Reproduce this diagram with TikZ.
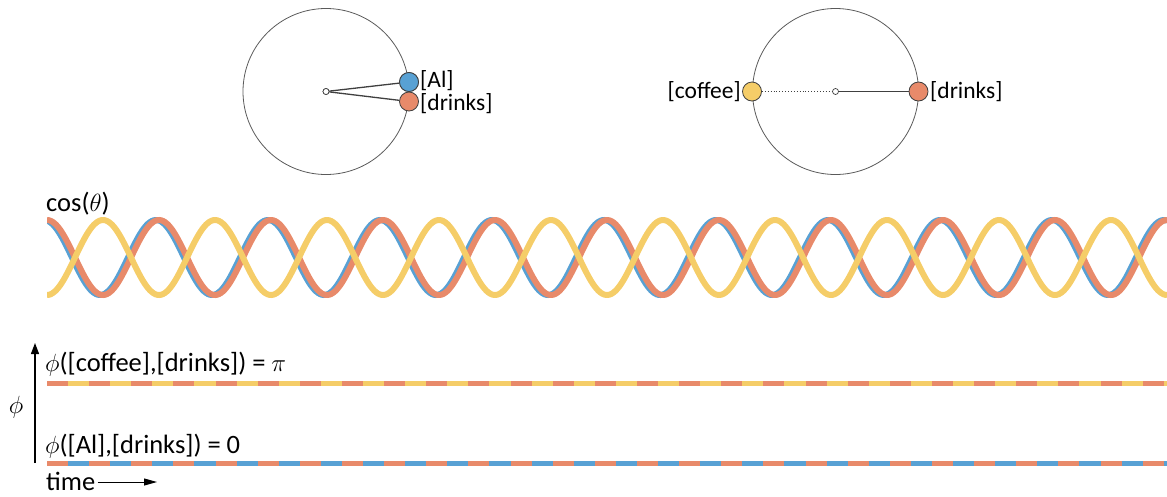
\documentclass[tikz,border=0pt]{standalone}
\usepackage{fontspec}
\setmainfont{Carlito}
\usetikzlibrary{arrows.meta}
\definecolor{wblue}{RGB}{88,161,212}
\definecolor{worange}{RGB}{232,138,106}
\definecolor{wyellow}{RGB}{245,205,104}
\definecolor{ringgray}{RGB}{90,90,90}
\begin{document}
\begin{tikzpicture}[x=1pt,y=-1pt,
  font=\fontsize{23.5}{28}\selectfont,
  dot/.style={circle, draw=black!75, line width=0.8pt, minimum size=19pt, inner sep=0pt},
  hub/.style={circle, draw=black!75, fill=white, line width=0.7pt, minimum size=6pt, inner sep=0pt},
  ring/.style={draw=ringgray, line width=0.8pt},
  spoke/.style={draw=black!75, line width=1.3pt},
  wave/.style={line width=6pt, line cap=butt},
  bar/.style={line width=5pt, line cap=butt},
  dashbar/.style={bar, dash pattern=on 21.07pt off 21.07pt, dash phase=21.07pt},
  lbl/.style={inner sep=0pt},
  biglbl/.style={inner sep=0pt, font=\fontsize{26.5}{31}\selectfont},
  axisarrow/.style={line width=1.3pt, -{Triangle[length=11pt,width=8pt]}},
  timearrow/.style={line width=1pt, -{Triangle[length=13pt,width=7pt]}}
]
\useasboundingbox (0,0) rectangle (1167,496);

% ---------- left circle ----------
\draw[ring] (326,91.5) circle[radius=83pt];
\node[hub] (c1) at (326,91.5) {};
\node[dot, fill=worange] (d1) at (409,101.5) {};
\node[dot, fill=wblue] (a1) at (409,82) {};
\draw[spoke] (c1) -- (a1);
\draw[spoke] (c1) -- (d1);
\node[hub] at (326,91.5) {};
\node[dot, fill=wblue] at (409,82) {};
\node[lbl, anchor=west] (alab) at (420,81) {[Al]};
\node[lbl, anchor=west] (dlab1) at (420,104) {[drinks]};

% ---------- right circle ----------
\draw[ring] (835.5,91.5) circle[radius=83pt];
\node[hub] (c2) at (835.5,91.5) {};
\node[dot, fill=wyellow] (y2) at (752,91.5) {};
\node[dot, fill=worange] (d2) at (918.5,91.5) {};
\draw[draw=black!75, line width=0.9pt, dotted] (y2) -- (c2);
\draw[spoke] (c2) -- (d2);
\node[lbl, anchor=east] (clab) at (741,92) {[coffee]};
\node[lbl, anchor=west] (dlab2) at (930,92) {[drinks]};

% ---------- waves ----------
\node[biglbl, anchor=west] (cos) at (46,204) {cos($\theta$)};
\begin{scope}
\clip (47,200) rectangle (1167,310);
\draw[wave, wblue] plot[domain=47:1167, samples=600] (\x, {257.5 - 37.5*cos((\x-44)/112*360)});
\draw[wave, worange] plot[domain=47:1167, samples=600] (\x, {257.5 - 37.5*cos((\x-47)/112*360)});
\draw[wave, wyellow] plot[domain=47:1167, samples=600] (\x, {257.5 + 37.5*cos((\x-47)/112*360)});
\end{scope}

% ---------- phase lines ----------
\node[biglbl, anchor=west] (pilab) at (45,364) {$\phi$([coffee],[drinks]) = $\pi$};
\coordinate (p1s) at (47,383);
\coordinate (p1e) at (1167,383);
\draw[bar, worange] (p1s) -- (p1e);
\draw[dashbar, wyellow] (p1s) -- (p1e);

\node[biglbl, anchor=west] (zlab) at (45,446) {$\phi$([Al],[drinks]) = 0};
\coordinate (p2s) at (47,463);
\coordinate (p2e) at (1167,463);
\draw[bar, worange] (p2s) -- (p2e);
\draw[dashbar, wblue] (p2s) -- (p2e);

% ---------- axes ----------
\coordinate (ax0) at (35,463);
\coordinate (ax1) at (35,343);
\draw[axisarrow] (ax0) -- (ax1);
\node[biglbl] (philab) at (16,407) {$\phi$};
\node[biglbl, anchor=west] (time) at (46,481) {time};
\coordinate (tend) at (157,482);
\draw[timearrow] (time.east) ++(2,1) -- (tend);
\end{tikzpicture}
\end{document}
